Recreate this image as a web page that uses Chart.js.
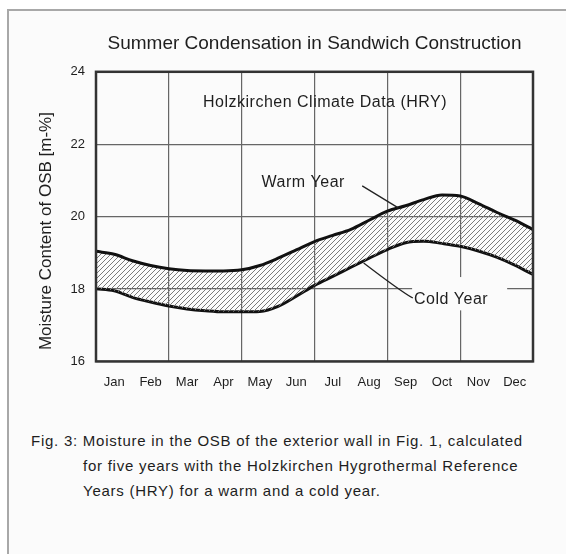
<!DOCTYPE html>
<html>
<head>
<meta charset="utf-8">
<script src="https://cdn.jsdelivr.net/npm/chart.js@4.4.1/dist/chart.umd.min.js"></script>
<style>
body{margin:0;background:#fff;font-family:"Liberation Sans",Arial,sans-serif;}
#frame{position:absolute;left:7px;top:9px;width:620px;height:600px;border-left:2px solid #a8a8a8;border-top:2px solid #a8a8a8;background:#fbfbfb;}
#wrap{position:absolute;left:0;top:0;width:566px;height:410px;}
#caption{position:absolute;left:31px;top:428px;width:530px;font-size:15px;letter-spacing:0.75px;line-height:25px;color:#1e1e1e;padding-left:52px;text-indent:-52px;box-sizing:border-box;white-space:nowrap;}
</style>
</head>
<body>
<div id="frame"></div>
<div id="wrap"><canvas id="chart" width="566" height="410"></canvas></div>
<div id="caption">Fig. 3: Moisture in the OSB of the exterior wall in Fig. 1, calculated<br>for five years with the Holzkirchen Hygrothermal Reference<br>Years (HRY) for a warm and a cold year.</div>
<script>
// data
const months = ["Jan","Feb","Mar","Apr","May","Jun","Jul","Aug","Sep","Oct","Nov","Dec"];
// positions along the year, in months (0 = start of Jan, 12 = end of Dec)
const monthPos = [0,0.5,1,1.5,2,2.5,3,3.5,4,4.5,5,5.5,6,6.5,7,7.5,8,8.5,9,9.5,10,10.5,11,11.5,12];
const warmYear = [19.04,18.96,18.78,18.65,18.56,18.51,18.50,18.50,18.53,18.65,18.85,19.08,19.31,19.48,19.65,19.90,20.15,20.30,20.47,20.60,20.57,20.36,20.12,19.90,19.64];
const coldYear = [18.01,17.95,17.77,17.64,17.53,17.45,17.40,17.37,17.37,17.38,17.52,17.80,18.10,18.35,18.60,18.85,19.09,19.28,19.32,19.26,19.18,19.05,18.88,18.66,18.40];
const yMin = 16, yMax = 24, yStep = 2;

const FONT = "'Liberation Sans', Arial, sans-serif";

function makeHatch(){
  const c = document.createElement('canvas');
  c.width = 5; c.height = 5;
  const g = c.getContext('2d');
  g.strokeStyle = '#7a7a7a';
  g.lineWidth = 1;
  g.beginPath();
  g.moveTo(0,5); g.lineTo(5,0);
  g.moveTo(-1,1); g.lineTo(1,-1);
  g.moveTo(4,6); g.lineTo(6,4);
  g.stroke();
  return g.createPattern(c,'repeat');
}

const toPoints = (vals) => vals.map((v,i) => ({x: monthPos[i], y: v}));

// labels and leader lines inside the plot, plus the y axis title
const notes = {
  id: 'notes',
  afterDatasetsDraw(chart){
    const {ctx, scales:{x, y}} = chart;
    const px = v => x.getPixelForValue(v), py = v => y.getPixelForValue(v);
    ctx.save();
    ctx.fillStyle = '#1e1e1e';
    ctx.font = '16px ' + FONT;
    ctx.letterSpacing = '0.5px';
    ctx.textAlign = 'center';
    ctx.textBaseline = 'middle';
    ctx.fillText('Holzkirchen Climate Data (HRY)', px(6.29), py(23.15));
    ctx.fillText('Warm Year', px(5.69), py(20.93));

    // cold year label sits on a blank patch
    ctx.fillStyle = '#fbfbfb';
    ctx.fillRect(px(8.68), py(18.33), px(11.29)-px(8.68), py(17.41)-py(18.33));
    ctx.fillStyle = '#1e1e1e';
    ctx.fillText('Cold Year', px(9.75), py(17.72));

    ctx.strokeStyle = '#222';
    ctx.lineWidth = 1.3;
    ctx.beginPath();
    ctx.moveTo(px(7.31), py(20.85));
    ctx.lineTo(px(8.3), py(20.24));
    ctx.moveTo(px(7.35), py(18.72));
    ctx.quadraticCurveTo(px(8.35), py(17.95), px(8.7), py(17.75));
    ctx.stroke();

    // y axis title, sits a bit below the plot middle in the original
    ctx.translate(46, py(19.6));
    ctx.rotate(-Math.PI / 2);
    ctx.font = '17px ' + FONT;
    ctx.letterSpacing = '0px';
    ctx.fillText('Moisture Content of OSB [m-%]', 0, 0);

    ctx.restore();
  },
  afterDraw(chart){
    const {ctx, chartArea:a} = chart;
    ctx.save();
    ctx.strokeStyle = '#333';
    ctx.lineWidth = 2.5;
    ctx.strokeRect(a.left, a.top, a.right-a.left, a.bottom-a.top);
    ctx.restore();
  }
};

new Chart(document.getElementById('chart'), {
  type: 'line',
  data: {
    datasets: [
      {
        label: 'Warm Year',
        data: toPoints(warmYear),
        borderColor: '#111',
        borderWidth: 3,
        pointRadius: 0,
        cubicInterpolationMode: 'monotone',
        fill: '+1',
        backgroundColor: makeHatch()
      },
      {
        label: 'Cold Year',
        data: toPoints(coldYear),
        borderColor: '#111',
        borderWidth: 3,
        pointRadius: 0,
        cubicInterpolationMode: 'monotone',
        fill: false
      }
    ]
  },
  options: {
    responsive: false,
    animation: false,
    layout: {padding: {left: 30, right: 33, top: 0, bottom: 7}},
    plugins: {
      legend: {display: false},
      tooltip: {enabled: false},
      title: {
        display: true,
        text: 'Summer Condensation in Sandwich Construction',
        color: '#1e1e1e',
        fullSize: false,
        font: {family: FONT, size: 19, weight: 'normal'},
        padding: {top: 32, bottom: 17}
      }
    },
    scales: {
      x: {
        type: 'linear',
        min: 0,
        max: 12,
        afterBuildTicks: (scale) => {
          scale.ticks = monthPos.map(v => ({value: v}));
        },
        ticks: {
          autoSkip: false,
          maxRotation: 0,
          padding: 13,
          color: '#1e1e1e',
          font: {family: FONT, size: 13},
          callback: (v) => (v % 1 === 0.5) ? months[Math.floor(v)] : ''
        },
        grid: {
          drawTicks: false,
          color: (c) => (c.tick && c.tick.value % 2 === 0) ? '#666' : 'rgba(0,0,0,0)',
          lineWidth: 1.2
        },
        border: {display: false}
      },
      y: {
        min: yMin,
        max: yMax,
        afterFit: (scale) => { scale.width = 66; },
        ticks: {
          stepSize: yStep,
          padding: 11,
          color: '#1e1e1e',
          font: {family: FONT, size: 13}
        },
        grid: {drawTicks: false, color: '#666', lineWidth: 1.2},
        border: {display: false}
      }
    }
  },
  plugins: [notes]
});
</script>
</body>
</html>
